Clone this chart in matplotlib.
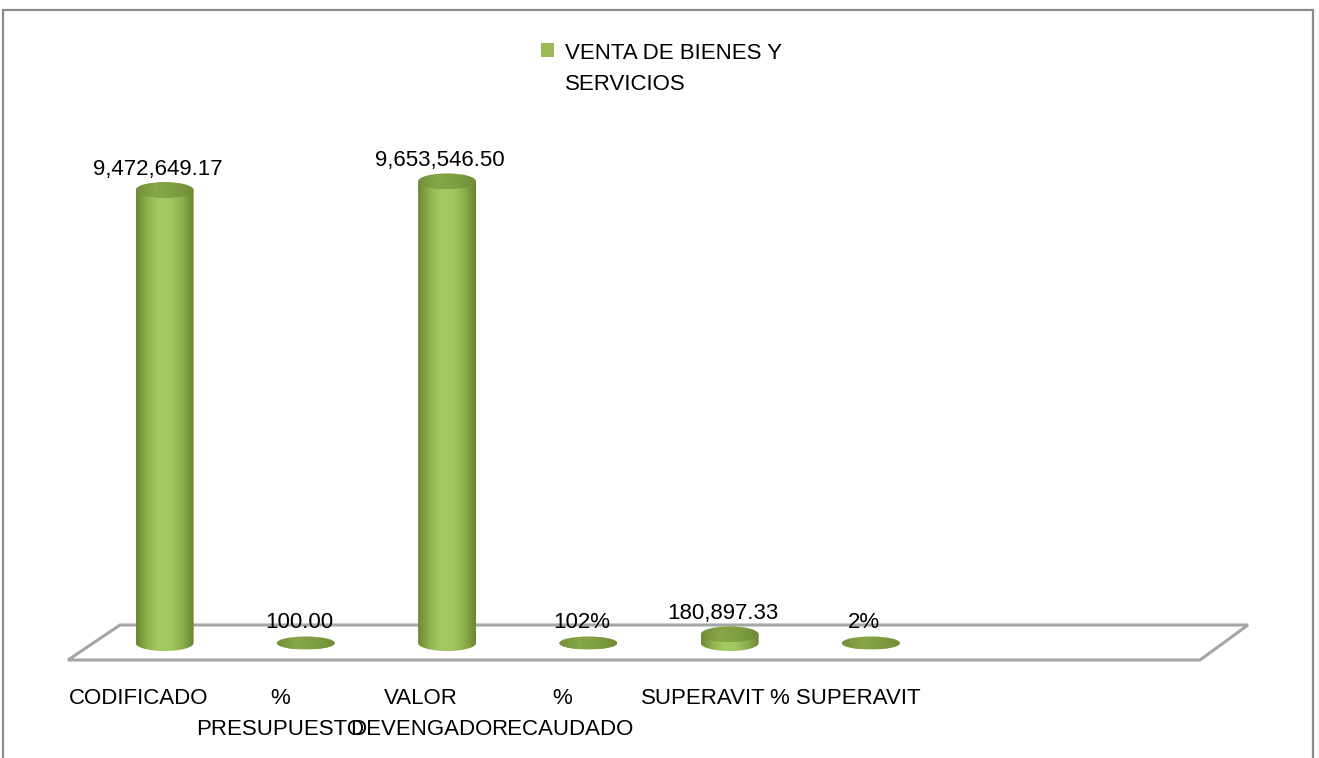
import numpy as np
import matplotlib
matplotlib.use("Agg")
from matplotlib import pyplot as plt
from matplotlib.patches import Polygon, Ellipse, Rectangle
from matplotlib.colors import LinearSegmentedColormap

categories = ["CODIFICADO", "%\nPRESUPUESTO", "VALOR\nDEVENGADO", "%\nRECAUDADO",
              "SUPERAVIT", "% SUPERAVIT", "", ""]
values = [9472649.17, 100.00, 9653546.50, 1.02, 180897.33, 0.02]
value_labels = ["9,472,649.17", "100.00", "9,653,546.50", "102%", "180,897.33", "2%"]
series_name = "VENTA DE BIENES Y\nSERVICIOS"

W, H = 1319, 758
plt.rcParams['font.family'] = ['Liberation Sans', 'DejaVu Sans']
fig = plt.figure(figsize=(W / 100, H / 100), dpi=100)

def fx(x):
    return x / W

def fy(y):
    return 1 - y / H

# plot area in pixels (value 0 sits at pixel row `base`)
left, right, base, top, bottom = 94, 1224, 643, 100, 700
ppm = 47.82  # pixels per million
ax = fig.add_axes([fx(left), fy(bottom), (right - left) / W, (bottom - top) / H])
ymax = (base - top) / ppm * 1e6
ymin = -(bottom - base) / ppm * 1e6
ax.axis('off')

px_x = (right - left) / len(categories)
def dx(p):
    return p / px_x

def dy(p):
    return p / ppm * 1e6

# floor
floor = Polygon([(-dx(26), -dy(17)), (len(categories) - dx(24), -dy(17)),
                 (len(categories) + dx(24), dy(18)), (dx(26), dy(18))],
                closed=True, facecolor='white', edgecolor='#a6a6a6', lw=2.2,
                clip_on=False, zorder=1)
ax.add_patch(floor)

body_cmap = LinearSegmentedColormap.from_list(
    'body', ['#6b8833', '#8fb34f', '#a5c963', '#a2c660', '#8cae4c', '#6a8631'])
top_cmap = LinearSegmentedColormap.from_list(
    'top', ['#738f3a', '#86a647', '#7f9e42', '#6f8b36'])

w = dx(29)
grad = np.linspace(0, 1, 256).reshape(1, -1)
for i, v in enumerate(values):
    c = i + 0.5
    # tall cylinders show a rounder cap than the flat discs
    h = dy(8) if v > dy(4) else dy(6.5)
    t = np.linspace(np.pi, 2 * np.pi, 60)
    pts = [(c - w, v)] + [(c + w * np.cos(a), h * np.sin(a)) for a in t] + [(c + w, v)]
    body = Polygon(pts, closed=True, facecolor='none', edgecolor='none')
    ax.add_patch(body)
    im = ax.imshow(grad, cmap=body_cmap, aspect='auto', extent=[c - w, c + w, -h, v + h],
                   zorder=3)
    im.set_clip_path(body)
    cap = Ellipse((c, v), 2 * w, 2 * h, facecolor='none', edgecolor='none')
    ax.add_patch(cap)
    im2 = ax.imshow(grad, cmap=top_cmap, aspect='auto', extent=[c - w, c + w, v - h, v + h],
                    zorder=4)
    im2.set_clip_path(cap)
    ax.annotate(value_labels[i], (c, v + dy(8)), xytext=(-7, 2), textcoords='offset pixels',
                ha='center', va='bottom', fontsize=16, color='black', zorder=5,
                annotation_clip=False)

ax.set_xlim(0, len(categories))
ax.set_ylim(ymin, ymax)

# category labels on the front edge
for i, lab in enumerate(categories):
    if lab:
        ax.text(i + 0.5 - dx(26), -dy(45), lab, ha='center', va='top', fontsize=16,
                linespacing=1.6, clip_on=False)

# legend
fig.add_artist(Rectangle((fx(541), fy(57)), 13 / W, 14 / H, transform=fig.transFigure,
                         facecolor='#9bbb59', edgecolor='none'))
fig.text(fx(565), fy(43), series_name, ha='left', va='top', fontsize=16, linespacing=1.65)

# chart border
fig.add_artist(Rectangle((fx(3), fy(800)), 1310 / W, 790 / H, transform=fig.transFigure,
                         facecolor='none', edgecolor='#8c8c8c', lw=1.6))

fig.savefig('out.png', dpi=100)
